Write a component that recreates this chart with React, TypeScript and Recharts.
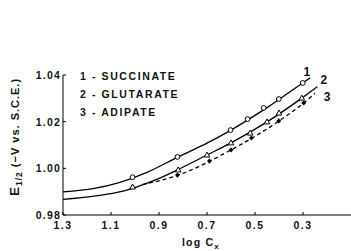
import {
  ComposedChart,
  Line,
  Scatter,
  XAxis,
  YAxis,
  ReferenceDot,
} from "recharts";

// measured points (log Cx, E1/2)
const succinatePts = [
  { x: 1.01, y: 0.9962 },
  { x: 0.823, y: 1.0049 },
  { x: 0.602, y: 1.0164 },
  { x: 0.531, y: 1.0211 },
  { x: 0.464, y: 1.0259 },
  { x: 0.401, y: 1.0297 },
  { x: 0.301, y: 1.0366 },
];
const glutaratePts = [
  { x: 1.01, y: 0.992 },
  { x: 0.82, y: 0.9993 },
  { x: 0.7, y: 1.0057 },
  { x: 0.6, y: 1.0109 },
  { x: 0.52, y: 1.0151 },
  { x: 0.45, y: 1.0199 },
  { x: 0.4, y: 1.0237 },
  { x: 0.305, y: 1.0301 },
];
const adipatePts = [
  { x: 0.823, y: 0.9971 },
  { x: 0.69, y: 1.0031 },
  { x: 0.6, y: 1.0079 },
  { x: 0.515, y: 1.013 },
  { x: 0.401, y: 1.0203 },
  { x: 0.297, y: 1.028 },
];

// fitted curves
const succinateCurve = [
  { x: 1.3, y: 0.9899 },
  { x: 1.17, y: 0.9914 },
  { x: 1.07, y: 0.9938 },
  { x: 0.95, y: 0.9983 },
  { x: 0.82, y: 1.0049 },
  { x: 0.7, y: 1.0108 },
  { x: 0.6, y: 1.0164 },
  { x: 0.45, y: 1.026 },
  { x: 0.3, y: 1.0367 },
  { x: 0.27, y: 1.0388 },
];
const glutarateCurve = [
  { x: 1.3, y: 0.9867 },
  { x: 1.17, y: 0.9881 },
  { x: 1.05, y: 0.9902 },
  { x: 0.92, y: 0.9948 },
  { x: 0.82, y: 0.9995 },
  { x: 0.7, y: 1.0057 },
  { x: 0.6, y: 1.0109 },
  { x: 0.45, y: 1.0199 },
  { x: 0.305, y: 1.0301 },
  { x: 0.24, y: 1.035 },
];
const adipateCurve = [
  { x: 0.97, y: 0.993 },
  { x: 0.823, y: 0.997 },
  { x: 0.6, y: 1.0079 },
  { x: 0.4, y: 1.0203 },
  { x: 0.297, y: 1.028 },
  { x: 0.25, y: 1.0322 },
];

const xTicks = [1.3, 1.1, 0.9, 0.7, 0.5, 0.3];
const yTicks = [0.98, 1.0, 1.02, 1.04];
const legendLines = ["1 - SUCCINATE", "2 - GLUTARATE", "3 - ADIPATE"];
const curveLabels = [
  { text: "1", x: 0.284, y: 1.0413 },
  { text: "2", x: 0.213, y: 1.0379 },
  { text: "3", x: 0.2, y: 1.0306 },
];

const FONT = "'Liberation Sans', Arial, sans-serif";

const XTick = ({ x, y, payload }: any) => (
  <g>
    <line x1={x} x2={x} y1={y} y2={y - 3} stroke="#000" />
    <text
      x={x}
      y={y + 14}
      textAnchor="middle"
      fontFamily={FONT}
      fontWeight="bold"
      fontSize={10.5}
      letterSpacing={1.5}
      fill="#111"
    >
      {payload.value.toFixed(1)}
    </text>
  </g>
);

const YTick = ({ x, y, payload }: any) => (
  <g>
    <line x1={x} x2={x + 3} y1={y} y2={y} stroke="#000" />
    <text
      x={x - 2}
      y={y + 4}
      textAnchor="end"
      fontFamily={FONT}
      fontWeight="bold"
      fontSize={10.5}
      letterSpacing={1.2}
      fill="#111"
    >
      {payload.value.toFixed(2)}
    </text>
  </g>
);

const OpenCircle = ({ cx, cy }: any) => (
  <circle cx={cx} cy={cy} r={2.4} fill="#fff" stroke="#000" strokeWidth={1} />
);
const OpenTriangle = ({ cx, cy }: any) => (
  <path
    d={`M${cx},${cy - 3}L${cx + 2.8},${cy + 2}L${cx - 2.8},${cy + 2}Z`}
    fill="#fff"
    stroke="#000"
    strokeWidth={1}
  />
);
const FilledMark = ({ cx, cy }: any) => (
  <path
    d={`M${cx},${cy - 2.6}L${cx + 2.4},${cy}L${cx},${cy + 2.6}L${cx - 2.4},${cy}Z`}
    fill="#000"
  />
);

export default function App() {
  return (
    <div style={{ position: "absolute", left: 0, top: 0, background: "#fff" }}>
      <ComposedChart
        width={351}
        height={251}
        margin={{ top: 75, right: 0, bottom: 0, left: 0 }}
      >
        <XAxis
          type="number"
          dataKey="x"
          domain={[0.1, 1.3]}
          reversed
          ticks={xTicks}
          tickSize={0}
          tickMargin={0}
          tick={XTick}
          height={36}
          stroke="#000"
          allowDataOverflow
        />
        <YAxis
          type="number"
          dataKey="y"
          domain={[0.98, 1.04]}
          ticks={yTicks}
          tickSize={0}
          tickMargin={0}
          tick={YTick}
          width={63}
          stroke="#000"
          allowDataOverflow
        />
        <Line
          data={succinateCurve}
          dataKey="y"
          type="monotone"
          stroke="#000"
          strokeWidth={1.3}
          dot={false}
          isAnimationActive={false}
        />
        <Line
          data={glutarateCurve}
          dataKey="y"
          type="monotone"
          stroke="#000"
          strokeWidth={1.3}
          dot={false}
          isAnimationActive={false}
        />
        <Line
          data={adipateCurve}
          dataKey="y"
          type="monotone"
          stroke="#000"
          strokeWidth={1.3}
          strokeDasharray="4 3"
          dot={false}
          isAnimationActive={false}
        />
        <Scatter data={succinatePts} shape={OpenCircle} isAnimationActive={false} />
        <Scatter data={glutaratePts} shape={OpenTriangle} isAnimationActive={false} />
        <Scatter data={adipatePts} shape={FilledMark} isAnimationActive={false} />
        {curveLabels.map((c) => (
          <ReferenceDot
            key={c.text}
            x={c.x}
            y={c.y}
            r={0}
            ifOverflow="visible"
            label={{
              value: c.text,
              position: "center",
              fontFamily: FONT,
              fontWeight: "bold",
              fontSize: 12,
              fill: "#111",
            }}
          />
        ))}
        {legendLines.map((t, i) => (
          <text
            key={t}
            x={80}
            y={80 + i * 18}
            fontFamily={FONT}
            fontWeight="bold"
            fontSize={10.5}
            letterSpacing={1.6}
            fill="#111"
            style={{ whiteSpace: "pre" }}
          >
            {t}
          </text>
        ))}
        <text
          x={19}
          y={137}
          transform="rotate(-90, 19, 137)"
          textAnchor="middle"
          fontFamily={FONT}
          fontWeight="bold"
          fill="#111"
          letterSpacing={1}
        >
          <tspan fontSize={13.5}>E</tspan>
          <tspan fontSize={8.5} dy={3}>1/2</tspan>
          <tspan fontSize={11} dy={-3}> (−V vs. S.C.E.)</tspan>
        </text>
        <text
          x={182}
          y={246}
          fontFamily={FONT}
          fontWeight="bold"
          fill="#111"
          letterSpacing={1.2}
        >
          <tspan fontSize={10.5}>log C</tspan>
          <tspan fontSize={8} dy={3}>x</tspan>
        </text>
      </ComposedChart>
    </div>
  );
}
